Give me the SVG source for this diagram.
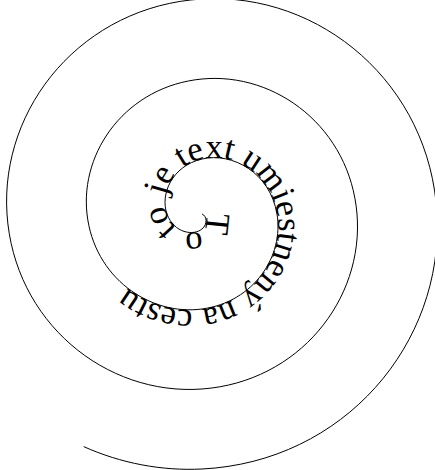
<svg xmlns="http://www.w3.org/2000/svg" xmlns:xlink="http://www.w3.org/1999/xlink" width="435" height="470" viewBox="0 0 435 470">
  <defs>
    <path id="spiral" d="M202,214 C206.76,215.97 208.07,223.85 202,229 C193.72,236.03 174.03,233.33 167,214 C159.97,194.67 171.62,166.03 202,159 C232.38,151.97 269.97,172.58 277,214 C284.03,255.42 254.47,301.97 202,309 C149.53,316.03 94.03,277.51 87,214 C79.97,150.49 127.44,86.03 202,79 C276.56,71.97 349.97,128.39 357,214 C364.03,299.61 298.65,381.97 202,389 C105.35,396.03 14.03,321.7 7,214 C-0.03,106.3 83.26,6.03 202,-1 C320.74,-8.03 429.97,84.21 437,214 C444.03,343.79 343.84,461.97 202,469 C161.9,471 121.2,463.4 83.7,446.6"/>
  </defs>
  <style>
    .spiral { fill: none; stroke: #000; stroke-width: 1; }
    .label { font-family: "Liberation Serif", "Times New Roman", serif; font-size: 34.5px; fill: #000; }
  </style>
  <g id="spiral-path">
    <use xlink:href="#spiral" href="#spiral" class="spiral"/>
  </g>
  <g id="spiral-text">
    <text class="label"><textPath xlink:href="#spiral" href="#spiral">To to je text umiestnený na cestu</textPath></text>
  </g>
</svg>
